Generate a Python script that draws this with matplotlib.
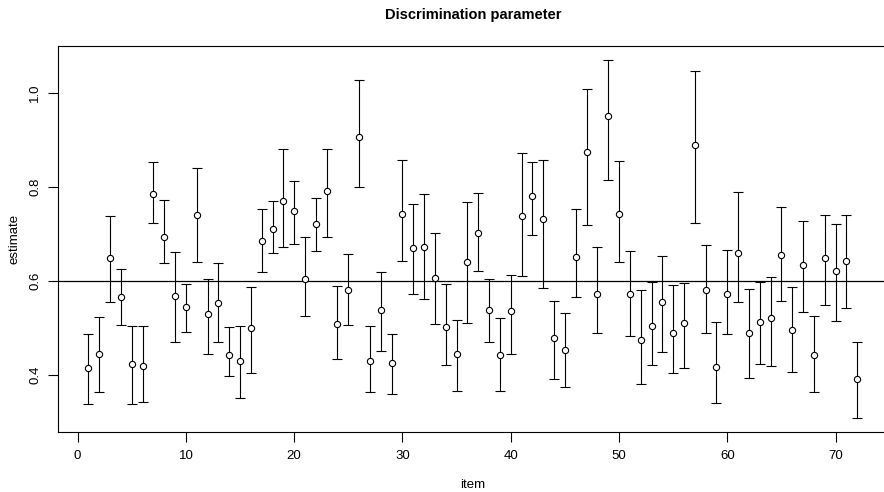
import numpy as np
import matplotlib
matplotlib.use('Agg')
import matplotlib.pyplot as plt

plt.rcParams['font.family'] = ['Liberation Sans', 'DejaVu Sans']

# item estimates with lower / upper bounds
item = np.arange(1, 73)
estimate = [0.414, 0.444, 0.648, 0.566, 0.424, 0.418, 0.785, 0.694, 0.568, 0.545,
            0.741, 0.529, 0.552, 0.443, 0.429, 0.499, 0.684, 0.711, 0.769, 0.748,
            0.604, 0.721, 0.792, 0.508, 0.580, 0.906, 0.429, 0.538, 0.425, 0.743,
            0.670, 0.672, 0.606, 0.502, 0.445, 0.640, 0.701, 0.539, 0.443, 0.535,
            0.738, 0.780, 0.731, 0.478, 0.453, 0.650, 0.874, 0.573, 0.950, 0.743,
            0.573, 0.474, 0.505, 0.554, 0.489, 0.511, 0.888, 0.581, 0.416, 0.571,
            0.660, 0.489, 0.512, 0.522, 0.654, 0.496, 0.634, 0.443, 0.649, 0.621,
            0.642, 0.391]
upper = [0.486, 0.523, 0.738, 0.626, 0.505, 0.505, 0.853, 0.772, 0.661, 0.594,
         0.840, 0.604, 0.639, 0.501, 0.504, 0.587, 0.752, 0.770, 0.881, 0.813,
         0.694, 0.777, 0.881, 0.588, 0.657, 1.028, 0.504, 0.619, 0.487, 0.857,
         0.764, 0.784, 0.701, 0.594, 0.516, 0.767, 0.787, 0.604, 0.520, 0.613,
         0.871, 0.853, 0.857, 0.557, 0.531, 0.753, 1.009, 0.673, 1.069, 0.854,
         0.664, 0.580, 0.597, 0.653, 0.591, 0.596, 1.047, 0.677, 0.513, 0.665,
         0.789, 0.583, 0.597, 0.609, 0.758, 0.587, 0.727, 0.525, 0.739, 0.721,
         0.739, 0.470]
lower = [0.338, 0.364, 0.554, 0.506, 0.338, 0.342, 0.723, 0.638, 0.471, 0.492,
         0.640, 0.445, 0.471, 0.398, 0.351, 0.405, 0.619, 0.660, 0.671, 0.679,
         0.526, 0.663, 0.694, 0.433, 0.506, 0.799, 0.363, 0.450, 0.360, 0.643,
         0.573, 0.562, 0.509, 0.422, 0.365, 0.511, 0.622, 0.471, 0.365, 0.445,
         0.611, 0.697, 0.584, 0.392, 0.374, 0.566, 0.718, 0.490, 0.815, 0.640,
         0.482, 0.380, 0.421, 0.448, 0.404, 0.414, 0.723, 0.489, 0.340, 0.487,
         0.556, 0.394, 0.423, 0.418, 0.558, 0.407, 0.533, 0.363, 0.548, 0.514,
         0.543, 0.309]
ref_line = 0.6

est = np.array(estimate)
yerr = [est - np.array(lower), np.array(upper) - est]

fig = plt.figure(figsize=(8.84, 4.92), dpi=100)
# plot region runs past the right edge, like the cropped original
ax = fig.add_axes([57.7 / 884, 1 - 432 / 492, (888 - 57.7) / 884, (432 - 46) / 492])

ax.errorbar(item, est, yerr=yerr, fmt='o', mfc='white', mec='black', ms=4.5, mew=0.8,
            ecolor='black', elinewidth=0.8, capsize=3.5, capthick=0.8)
ax.axhline(ref_line, color='black', lw=0.9)

ax.set_xlim(-1.84, 74.84)
ax.set_ylim(0.2786, 1.0994)
ax.set_xticks(np.arange(0, 71, 10))
ax.set_yticks([0.4, 0.6, 0.8, 1.0])
ax.set_yticklabels(['0.4', '0.6', '0.8', '1.0'], rotation=90, va='center')
ax.tick_params(direction='out', length=7, width=0.8, labelsize=9.5, color='black')
ax.tick_params(axis='x', pad=6)
ax.tick_params(axis='y', pad=5)
for s in ax.spines.values():
    s.set_linewidth(0.8)
ax.spines['right'].set_visible(False)

# axis labels and title placed in figure pixels, R style
fig.text(473 / 884, 1 - 485 / 492, 'item', ha='center', va='center', fontsize=9.5)
fig.text(14 / 884, 1 - 239 / 492, 'estimate', ha='center', va='center', rotation=90, fontsize=9.5)
fig.text(473 / 884, 1 - 15 / 492, 'Discrimination parameter', ha='center', va='center',
         fontsize=10.5, fontweight='bold')

fig.savefig('out.png', dpi=100)
